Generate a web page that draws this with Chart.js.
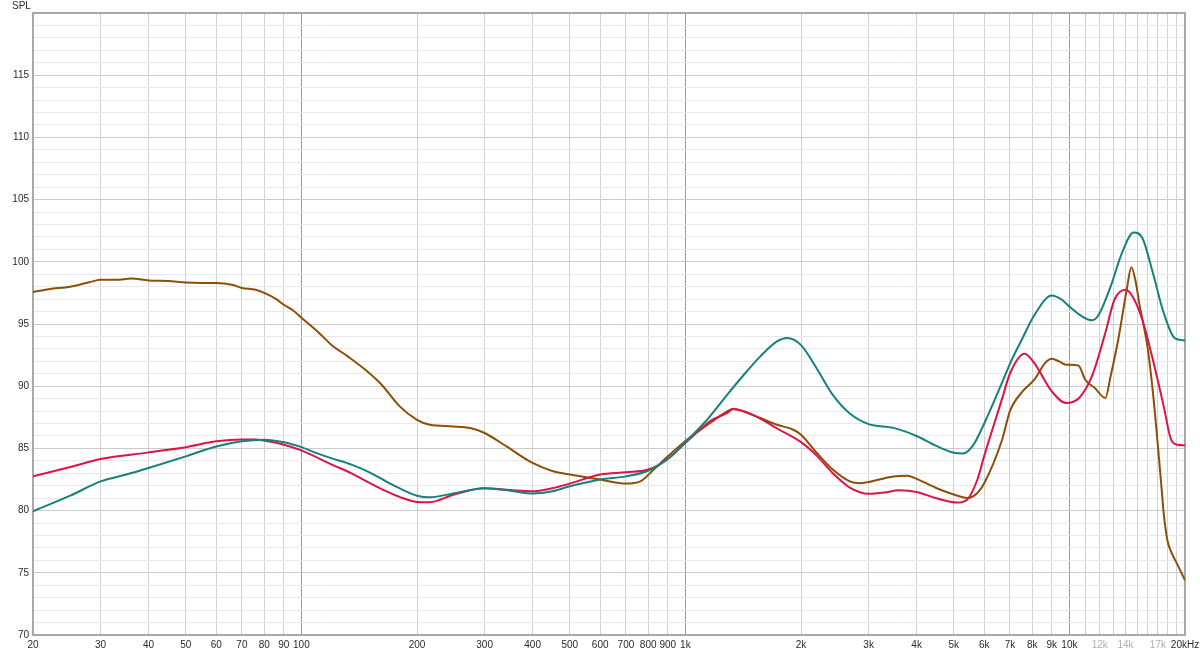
<!DOCTYPE html>
<html><head><meta charset="utf-8">
<script src="https://cdn.jsdelivr.net/npm/chart.js@4/dist/chart.umd.min.js"></script>
<style>html,body{margin:0;padding:0;background:#fff;overflow:hidden;}canvas{display:block;}</style>
</head><body>
<canvas id="c" width="1200" height="654"></canvas>
<script>
// ---- axis ticks ----
const xTicks = [20,30,40,50,60,70,80,90,100,200,300,400,500,600,700,800,900,1000,2000,3000,4000,5000,6000,7000,8000,9000,10000,11000,12000,13000,14000,15000,16000,17000,18000,19000,20000];
const xTickLabels = ['20','30','40','50','60','70','80','90','100','200','300','400','500','600','700','800','900','1k','2k','3k','4k','5k','6k','7k','8k','9k','10k','','12k','','14k','','','17k','','','20kHz'];
const fadedLabels = ['12k','14k','17k'];
const decadeLines = [100,1000,10000];
const yTicks = [70,71,72,73,74,75,76,77,78,79,80,81,82,83,84,85,86,87,88,89,90,91,92,93,94,95,96,97,98,99,100,101,102,103,104,105,106,107,108,109,110,111,112,113,114,115,116,117,118,119,120];
const yLabels = [70,75,80,85,90,95,100,105,110,115];
const yTitle = 'SPL';

// ---- series: teal ----
const tealFreq = [20,25,30,35,40,50,60,70,80,90,100,110,120,135,150,165,180,200,216,250,300,350,400,450,500,600,700,800,900,1000,1100,1160,1284,1418,1567,1732,1840,2000,2200,2420,2680,3000,3480,4000,4500,5000,5290,5600,6000,6680,7000,7560,8100,9000,9560,10000,10800,11450,11900,12800,13700,14700,15500,16500,17600,18800,20000];
const tealSPL = [79.95,81.2,82.35,82.9,83.43,84.36,85.16,85.57,85.7,85.5,85.1,84.6,84.2,83.7,83.1,82.4,81.8,81.2,81.07,81.4,81.8,81.6,81.37,81.55,81.95,82.5,82.75,83.2,84.15,85.5,86.8,87.6,89.3,90.9,92.4,93.6,93.87,93.3,91.4,89.3,87.8,86.95,86.65,86.0,85.2,84.65,84.6,85.2,87.0,90.3,91.8,93.9,95.7,97.3,96.95,96.4,95.6,95.3,95.7,98.0,100.7,102.35,101.9,99.1,95.9,93.87,93.68];

// ---- series: red ----
const redFreq = [20,25,30,40,50,60,70,76,80,90,100,120,135,150,165,180,200,216,250,300,350,400,450,500,600,700,800,900,1000,1100,1160,1284,1330,1418,1567,1732,2000,2200,2420,2680,3000,3300,3600,4000,4500,5100,5420,5760,6000,6680,7000,7640,8100,9000,9800,10600,11450,12400,13100,14000,14600,15500,16500,17600,18400,19100,20000];
const redSPL = [82.75,83.5,84.15,84.68,85.1,85.57,85.72,85.72,85.62,85.3,84.84,83.7,83.0,82.25,81.6,81.1,80.7,80.68,81.3,81.8,81.65,81.55,81.8,82.17,82.9,83.08,83.3,84.15,85.44,86.6,87.2,87.85,88.17,88.0,87.4,86.6,85.5,84.4,83.0,81.85,81.35,81.45,81.63,81.5,81.0,80.65,80.9,82.5,84.4,89.0,91.0,92.6,91.86,89.58,88.65,89.05,90.8,94.27,96.95,97.75,97.21,95.3,92.1,88.4,85.7,85.3,85.25];

// ---- series: brown ----
const brownFreq = [20,22,25,28,30,33,36,40,45,50,55,60,66,70,76,80,86,90,95,100,111,120,132,147,162,180,200,216,248,275,300,342,400,452,500,600,700,763,827,900,1000,1160,1284,1330,1418,1567,1732,1910,2000,2200,2420,2680,2850,3000,3480,3780,4000,4500,5000,5420,5760,6000,6680,7000,7560,8100,8640,9000,9400,9800,10550,11000,11650,12400,12800,13400,14100,14500,14900,15200,16000,16500,17000,17400,17600,18000,18400,18800,19300,20000];
const brownSPL = [97.57,97.8,98.0,98.35,98.55,98.55,98.65,98.5,98.45,98.33,98.3,98.3,98.15,97.9,97.75,97.5,97.0,96.55,96.1,95.5,94.3,93.3,92.4,91.3,90.1,88.4,87.3,86.9,86.77,86.64,86.24,85.16,83.83,83.16,82.9,82.5,82.17,82.35,83.3,84.36,85.6,87.04,87.97,88.17,87.97,87.44,86.9,86.5,86.1,84.63,83.3,82.35,82.2,82.3,82.75,82.8,82.55,81.82,81.29,81.02,81.42,82.2,85.7,88.0,89.6,90.52,91.86,92.2,91.99,91.73,91.67,90.52,89.85,89.05,90.79,93.73,97.75,99.56,98.3,96.68,93.0,89.5,85.2,81.6,79.8,77.6,76.7,76.1,75.4,74.4];

const toPts = (f, v) => f.map((x, i) => ({x: x, y: v[i]}));

const FONT = {family: "'Liberation Sans', Arial, sans-serif", size: 10};

const framePlugin = {
  id: 'frame',
  beforeDatasetsDraw(chart) {
    const ctx = chart.ctx, a = chart.chartArea;
    ctx.save();
    ctx.strokeStyle = '#a8a8a8';
    ctx.lineWidth = 2;
    ctx.beginPath();
    ctx.moveTo(a.left, a.top);
    ctx.lineTo(a.right, a.top);
    ctx.lineTo(a.right, a.bottom);
    ctx.stroke();
    ctx.restore();
  },
  afterDraw(chart) {
    const ctx = chart.ctx;
    ctx.save();
    ctx.fillStyle = '#2a2a2a';
    ctx.font = "10px 'Liberation Sans', Arial, sans-serif";
    ctx.textBaseline = 'top';
    ctx.textAlign = 'left';
    ctx.fillText(yTitle, 12, 1);
    ctx.restore();
  }
};

const ds = (label, f, v, color) => ({
  label: label, data: toPts(f, v), borderColor: color, backgroundColor: color,
  borderWidth: 2, pointRadius: 0, cubicInterpolationMode: 'monotone', fill: false
});

new Chart(document.getElementById('c'), {
  type: 'line',
  data: {
    datasets: [
      ds('teal', tealFreq, tealSPL, '#17807f'),
      ds('red', redFreq, redSPL, '#dc1446'),
      ds('brown', brownFreq, brownSPL, '#8c4f06')
    ]
  },
  options: {
    responsive: false,
    animation: false,
    events: [],
    layout: {padding: {top: 13, right: 15, left: 0, bottom: 0}},
    plugins: {legend: {display: false}, tooltip: {enabled: false}},
    scales: {
      x: {
        type: 'logarithmic', min: 20, max: 20000,
        afterBuildTicks(s) { s.ticks = xTicks.map(v => ({value: v})); },
        afterFit(s) { s.height = 19; s.paddingLeft = 0; s.paddingRight = 0; },
        ticks: {
          autoSkip: false, maxRotation: 0, minRotation: 0, padding: 4, font: FONT,
          callback: (v, i) => xTickLabels[i],
          color: (c) => fadedLabels.includes(xTickLabels[c.index]) ? '#b0b0b0' : '#2a2a2a'
        },
        grid: {
          drawTicks: false, lineWidth: 1,
          color: (c) => decadeLines.includes(c.tick.value) ? '#9a9a9a' : '#d0d0d0'
        },
        border: {color: '#a8a8a8', width: 2}
      },
      y: {
        type: 'linear', min: 70, max: 120,
        afterBuildTicks(s) { s.ticks = yTicks.map(v => ({value: v})); },
        afterFit(s) { s.width = 33; s.paddingTop = 0; s.paddingBottom = 0; },
        ticks: {
          autoSkip: false, padding: 4, font: FONT, color: '#2a2a2a',
          callback: (v) => yLabels.includes(v) ? String(v) : ''
        },
        grid: {
          drawTicks: false, lineWidth: 1,
          color: (c) => (c.tick.value % 5 === 0) ? '#cbcbcb' : '#e8e8e8'
        },
        border: {color: '#a8a8a8', width: 2}
      }
    }
  },
  plugins: [framePlugin]
});
</script>
</body></html>
